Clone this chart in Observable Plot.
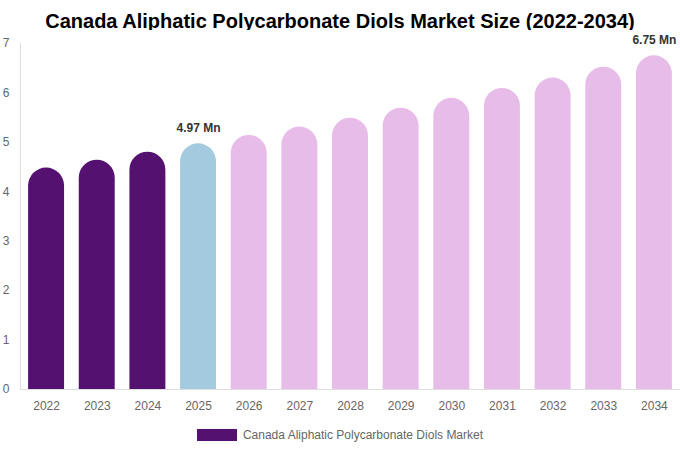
<!DOCTYPE html>
<html>
<head>
<meta charset="utf-8">
<script src="https://cdn.jsdelivr.net/npm/d3@7"></script>
<script src="https://cdn.jsdelivr.net/npm/@observablehq/plot@0.6"></script>
<style>
  body { margin: 0; background: #fff; font-family: "Liberation Sans", Arial, sans-serif; }
  #wrap { position: relative; width: 680px; height: 450px; }
  #title { position: absolute; top: 0; left: 0; width: 680px; text-align: center; line-height: 42px; font-size: 20px; font-weight: bold; color: #000; }
  #chart { position: absolute; top: 30px; left: 0; }
  #legend { position: absolute; top: 428px; left: 0; width: 680px; display: flex; justify-content: center; align-items: center; font-size: 12px; color: #666; }
  #legend .sw { width: 40px; height: 12px; background: #541170; margin-right: 6px; }
</style>
</head>
<body>
<div id="wrap">
  <div id="title">Canada Aliphatic Polycarbonate Diols Market Size (2022-2034)</div>
  <div id="chart"></div>
  <div id="legend"><div class="sw"></div><span>Canada Aliphatic Polycarbonate Diols Market</span></div>
</div>
<script>
const years = ["2022","2023","2024","2025","2026","2027","2028","2029","2030","2031","2032","2033","2034"];
const values = [4.48, 4.64, 4.80, 4.97, 5.14, 5.31, 5.49, 5.69, 5.89, 6.09, 6.30, 6.52, 6.75];
const phases = ["hist","hist","hist","base","fc","fc","fc","fc","fc","fc","fc","fc","fc"];
const labelYears = ["2025", "2034"];
const yTicks = [0, 1, 2, 3, 4, 5, 6, 7];
const phaseDomain = ["hist", "base", "fc"];
const phaseColors = ["#541170", "#a4cadf", "#e8bce9"];

const data = years.map((y, i) => ({year: y, value: values[i], phase: phases[i]}));
const labels = data.filter(d => labelYears.includes(d.year));

const plot = Plot.plot({
  width: 680,
  height: 396,
  marginLeft: 20,
  marginRight: 0,
  marginTop: 13,
  marginBottom: 37,
  style: {fontFamily: "Liberation Sans, Arial, sans-serif", fontSize: "12px", color: "#666", background: "#fff"},
  x: {domain: years, paddingInner: 0.29, paddingOuter: 0.16, round: false, label: null},
  y: {domain: [0, 7], ticks: yTicks, label: null},
  color: {domain: phaseDomain, range: phaseColors},
  marks: [
    Plot.axisX({tickSize: 0, tickPadding: 12, fill: "#666", fontSize: 12}),
    Plot.axisY({ticks: yTicks, tickFormat: d => String(d), tickSize: 0, tickPadding: 11, fill: "#666", fontSize: 12}),
    Plot.barY(data, {x: "year", y1: -1, y2: "value", fill: "phase", rx: 18, clip: true}),
    Plot.ruleY([0], {stroke: "#ddd"}),
    Plot.frame({anchor: "left", stroke: "#ddd"}),
    Plot.text(labels, {x: "year", y: "value", text: d => d.value.toFixed(2) + " Mn", dy: -16, fill: "#333", fontWeight: "bold", fontSize: 12})
  ]
});
document.getElementById("chart").appendChild(plot);
</script>
</body>
</html>
